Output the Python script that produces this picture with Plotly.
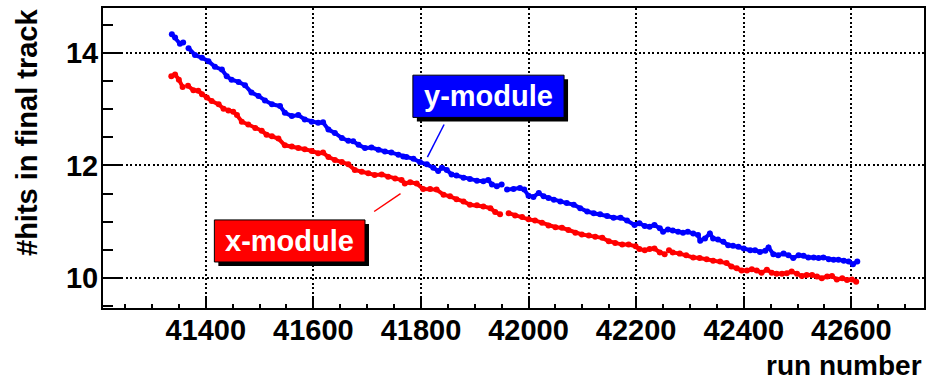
import plotly.graph_objects as go

# run numbers and mean hits (None = gap in the data)
blue_run = [41337, 41343, 41352, 41358, 41362, 41368, 41380, 41393, 41405, 41417, 41430, 41439,
            41448, 41461, 41473, 41485, 41498, 41510, 41523, 41538, 41547, 41560, 41572, 41584,
            41597, 41609, 41618, 41628, 41640, 41653, 41665, 41674, 41684, 41696, 41708, 41721,
            41733, 41745, 41758, 41767, 41773, 41786, 41798, 41811, 41823, 41832, 41839, 41848,
            41857, 41866, 41879, 41891, 41904, 41916, 41925, 41932, 41941, 41950, 41955, 41960,
            41972, 41984, 41992, 42000, 42009, 42019, 42028, 42037, 42047, 42059, 42071, 42084,
            42096, 42109, 42121, 42133, 42146, 42158, 42171, 42183, 42197, 42206, 42216, 42225,
            42234, 42244, 42250, 42259, 42268, 42278, 42287, 42296, 42306, 42315, 42319, 42328,
            42337, 42343, 42352, 42362, 42371, 42380, 42390, 42400, 42412, 42421, 42430, 42440,
            42446, 42455, 42464, 42474, 42483, 42492, 42502, 42511, 42520, 42530, 42539, 42548,
            42558, 42567, 42576, 42586, 42595, 42603, 42611]
blue_hits = [14.34, 14.28, 14.17, 14.19, None, 14.09, 13.97, 13.92, 13.86, 13.76, 13.71, 13.59,
             13.53, 13.49, 13.43, 13.30, 13.24, 13.16, 13.09, 13.06, 12.94, 12.88, 12.90, 12.82,
             12.78, 12.76, 12.77, 12.64, 12.58, 12.49, 12.44, 12.43, 12.37, 12.31, 12.32, 12.28,
             12.25, 12.23, 12.19, 12.16, 12.15, 12.12, 12.06, 12.02, 11.96, 11.90, 11.96, 11.92,
             11.84, 11.82, 11.78, 11.76, 11.73, 11.72, 11.74, 11.66, 11.63, 11.66, None, 11.57,
             11.58, 11.60, 11.57, 11.46, 11.44, 11.51, 11.45, 11.42, 11.39, 11.36, 11.33, 11.30,
             11.24, 11.18, 11.15, 11.13, 11.10, 11.07, 11.07, 11.02, 10.94, 10.97, 10.92, 10.91,
             10.94, 10.88, 10.82, 10.86, 10.84, 10.82, 10.80, 10.82, 10.79, 10.76, 10.66, 10.70,
             10.79, 10.70, 10.68, 10.64, 10.58, 10.57, 10.55, 10.52, 10.49, 10.49, 10.46, 10.48,
             10.54, 10.42, 10.40, 10.43, 10.40, 10.35, 10.40, 10.39, 10.36, 10.36, 10.35, 10.36,
             10.33, 10.32, 10.32, 10.30, 10.29, 10.24, 10.29]

red_run = [41336, 41343, 41350, 41357, 41362, 41367, 41377, 41386, 41393, 41402, 41411, 41424,
           41433, 41442, 41451, 41458, 41467, 41479, 41492, 41504, 41513, 41523, 41535, 41547,
           41560, 41572, 41584, 41597, 41609, 41618, 41628, 41640, 41653, 41665, 41677, 41690,
           41702, 41714, 41727, 41739, 41752, 41764, 41770, 41780, 41792, 41804, 41817, 41829,
           41842, 41854, 41866, 41879, 41891, 41904, 41916, 41929, 41938, 41947, 41955, 41963,
           41975, 41988, 42000, 42012, 42025, 42037, 42050, 42062, 42074, 42087, 42099, 42112,
           42124, 42137, 42149, 42161, 42174, 42186, 42199, 42206, 42216, 42225, 42234, 42244,
           42253, 42257, 42261, 42268, 42281, 42293, 42306, 42318, 42331, 42343, 42356, 42368,
           42377, 42387, 42396, 42406, 42415, 42424, 42433, 42443, 42452, 42461, 42471, 42480,
           42489, 42499, 42508, 42517, 42527, 42536, 42545, 42555, 42564, 42573, 42583, 42592,
           42601, 42609]
red_hits = [13.59, 13.62, 13.53, 13.40, None, 13.42, 13.34, 13.33, 13.27, 13.21, 13.15, 13.09,
            13.01, 12.98, 12.96, 12.90, 12.78, 12.73, 12.67, 12.62, 12.55, 12.52, 12.48, 12.36,
            12.34, 12.31, 12.29, 12.26, 12.22, 12.23, 12.15, 12.10, 12.06, 12.02, 11.92, 11.89,
            11.86, 11.83, 11.84, 11.80, 11.77, 11.74, 11.68, 11.70, 11.68, 11.58, 11.58, 11.57,
            11.48, 11.45, 11.40, 11.36, 11.30, 11.29, 11.27, 11.24, 11.17, 11.13, None, 11.15,
            11.11, 11.08, 11.04, 11.02, 10.98, 10.93, 10.90, 10.89, 10.85, 10.80, 10.77, 10.75,
            10.73, 10.71, 10.65, 10.62, 10.59, 10.59, 10.56, 10.51, 10.49, 10.51, 10.52, 10.45,
            10.42, None, 10.49, 10.45, 10.43, 10.40, 10.36, 10.35, 10.33, 10.30, 10.29, 10.26,
            10.20, 10.17, 10.13, 10.13, 10.15, 10.13, 10.09, 10.14, 10.09, 10.07, 10.07, 10.08,
            10.11, 10.07, 10.03, 10.05, 10.05, 10.02, 9.99, 10.02, 10.03, 9.97, 9.99, 9.96,
            9.97, 9.93]

x_ticks = [41400, 41600, 41800, 42000, 42200, 42400, 42600]
x_labels = ["41400", "41600", "41800", "42000", "42200", "42400", "42600"]
y_ticks = [10, 12, 14]
y_labels = ["10", "12", "14"]

FONT = "Liberation Sans, Arial, Helvetica, sans-serif"

fig = go.Figure()
for runs, hits, col in [(blue_run, blue_hits, "#0000ff"), (red_run, red_hits, "#ff0000")]:
    fig.add_trace(go.Scatter(x=runs, y=hits, mode="lines+markers",
                             line=dict(color=col, width=4),
                             marker=dict(color=col, size=6),
                             connectgaps=False, showlegend=False))

# label boxes: shadow, box, pointer line, text
labels = [
    dict(text="y-module", col="#0000ff", x0=41785, x1=42066, y0=12.857, y1=13.61,
         lx=(41843, 41812), ly=(12.73, 12.15)),
    dict(text="x-module", col="#ff0000", x0=41416, x1=41696, y0=10.28, y1=11.03,
         lx=(41762, 41713), ly=(11.50, 11.18)),
]
dx, dy = 7.4, 0.071
for lb in labels:
    fig.add_shape(type="rect", xref="x", yref="y", x0=lb["x0"] + dx, x1=lb["x1"] + dx,
                  y0=lb["y0"] - dy, y1=lb["y1"] - dy, fillcolor="black",
                  line=dict(width=0), layer="above")
    fig.add_shape(type="rect", xref="x", yref="y", x0=lb["x0"], x1=lb["x1"],
                  y0=lb["y0"], y1=lb["y1"], fillcolor=lb["col"],
                  line=dict(color="black", width=1), layer="above")
    fig.add_shape(type="line", xref="x", yref="y", x0=lb["lx"][0], x1=lb["lx"][1],
                  y0=lb["ly"][0], y1=lb["ly"][1], line=dict(color=lb["col"], width=1.5),
                  layer="above")
    fig.add_annotation(x=(lb["x0"] + lb["x1"]) / 2, y=(lb["y0"] + lb["y1"]) / 2,
                       xref="x", yref="y", text=lb["text"], showarrow=False,
                       font=dict(family=FONT, size=29, color="white", weight="bold"))

# axis titles
fig.add_annotation(x=1, y=-0.19, xref="paper", yref="paper", text="run number",
                   showarrow=False, xanchor="right", yanchor="middle",
                   font=dict(family=FONT, size=28, color="black", weight="bold"))
fig.add_annotation(x=-0.0926, y=1.005, xref="paper", yref="paper", text="#hits in final track",
                   showarrow=False, textangle=-90, xanchor="center", yanchor="top",
                   font=dict(family=FONT, size=29, color="black", weight="bold"))

fig.update_layout(
    width=927, height=380,
    margin=dict(l=103, r=3, t=8, b=72),
    plot_bgcolor="white", paper_bgcolor="white",
    font=dict(family=FONT, size=29, color="black", weight="bold"),
)
fig.update_xaxes(
    range=[41209, 42735], tickvals=x_ticks, ticktext=x_labels, ticks="inside", ticklen=10,
    tickwidth=1.5, tickcolor="black", showline=True, linecolor="black", linewidth=2,
    mirror=True, showgrid=True, gridcolor="black", gridwidth=1.5, griddash="2px,2.5px",
    zeroline=False, ticklabelstandoff=-5, automargin=False,
    minor=dict(dtick=50, tick0=41400, ticks="inside", ticklen=4.5, tickwidth=1.5,
               tickcolor="black", showgrid=False),
)
fig.update_yaxes(
    range=[9.46, 14.807], tickvals=y_ticks, ticktext=y_labels, ticks="inside", ticklen=20,
    tickwidth=1.5, tickcolor="black", showline=True, linecolor="black", linewidth=2,
    mirror=True, showgrid=True, gridcolor="black", gridwidth=1.5, griddash="2px,2.5px",
    zeroline=False, ticklabelstandoff=-3, automargin=False,
    minor=dict(dtick=0.5, tick0=10, ticks="inside", ticklen=10, tickwidth=1.5,
               tickcolor="black", showgrid=False),
)

# the page body has a default 8px margin; drop it so the figure sits at the window corner
fig.write_html("out.html", config={"displayModeBar": False},
               post_script="document.body.style.margin='0';document.body.style.overflow='hidden';")
